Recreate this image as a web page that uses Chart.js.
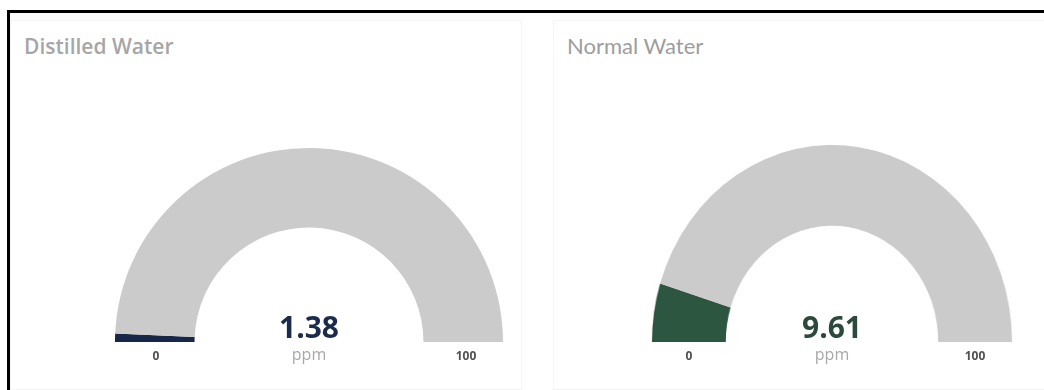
<!DOCTYPE html>
<html>
<head>
<meta charset="utf-8">
<script src="https://cdn.jsdelivr.net/npm/chart.js@4/dist/chart.umd.min.js"></script>
<style>
  html, body { margin: 0; padding: 0; background: #fff; }
  body { width: 1044px; height: 390px; position: relative; overflow: hidden; font-family: "Open Sans", sans-serif; }
  .frame { position: absolute; left: 7px; top: 10px; right: -10px; bottom: -10px; border-left: 3px solid #000; border-top: 3px solid #000; }
  .card { position: absolute; top: 20px; height: 370px; border: 1px solid #f5f5f5; box-sizing: border-box; }
  .title { position: absolute; color: #9d9d9d; top: 32px; white-space: nowrap; }
  .wrap { position: absolute; }
  .value { position: absolute; width: 200px; text-align: center; font-weight: 700; font-size: 30px; top: 309px; line-height: 36px; }
  .unit { position: absolute; width: 200px; text-align: center; font-size: 16px; color: #a8a8a8; top: 343px; line-height: 22px; }
  .tick { position: absolute; width: 60px; text-align: center; font-weight: 700; font-size: 12px; color: #505050; top: 347px; }
</style>
</head>
<body>
<div class="frame"></div>
<div class="card" style="left:10px;width:512px"></div>
<div class="card" style="left:553px;width:500px"></div>
<div id="g0"></div>
<div id="g1"></div>
<script>
  // Gauge data
  const gaugeTitles = ["Distilled Water", "Normal Water"];
  const gaugeValues = [1.38, 9.61];
  const gaugeMin = 0;
  const gaugeMax = 100;
  const gaugeUnit = "ppm";

  // Layout / style per gauge
  const gaugeStyle = [
    { cx: 309, base: 342, r: 194, sx: 1, color: "#16274a", text: "#1b2b4c", titleX: 24,
      titleFont: "600 21px 'Open Sans', sans-serif", titleColor: "#a6a6a6", lo: 156, hi: 466 },
    { cx: 832, base: 342, r: 197, sx: 0.914, color: "#2c5640", text: "#2c4a3c", titleX: 567,
      titleFont: "400 22px Lato, sans-serif", titleColor: "#9d9d9d", lo: 689, hi: 975 },
  ];

  function buildGauge(i) {
    const st = gaugeStyle[i];
    const host = document.getElementById("g" + i);

    const title = document.createElement("div");
    title.className = "title";
    title.style.left = st.titleX + "px";
    title.style.font = st.titleFont;
    title.style.color = st.titleColor;
    title.textContent = gaugeTitles[i];
    host.appendChild(title);

    const wrap = document.createElement("div");
    wrap.className = "wrap";
    wrap.style.left = st.cx - st.r + "px";
    wrap.style.top = st.base - st.r + "px";
    wrap.style.width = st.r * 2 + "px";
    wrap.style.height = st.r + "px";
    wrap.style.transform = `scaleX(${st.sx})`;
    const canvas = document.createElement("canvas");
    wrap.appendChild(canvas);
    host.appendChild(wrap);

    const v = gaugeValues[i];
    new Chart(canvas.getContext("2d"), {
      type: "doughnut",
      data: {
        labels: ["value", "rest"],
        datasets: [
          {
            data: [v - gaugeMin, gaugeMax - v],
            backgroundColor: [st.color, "#cbcbcb"],
            borderWidth: 0,
          },
        ],
      },
      options: {
        responsive: true,
        maintainAspectRatio: false,
        animation: false,
        events: [],
        rotation: -90,
        circumference: 180,
        cutout: "59%",
        layout: { padding: 0 },
        plugins: { legend: { display: false }, tooltip: { enabled: false } },
      },
    });

    const val = document.createElement("div");
    val.className = "value";
    val.style.left = st.cx - 100 + "px";
    val.style.color = st.text;
    val.textContent = v.toFixed(2);
    host.appendChild(val);

    const unit = document.createElement("div");
    unit.className = "unit";
    unit.style.left = st.cx - 100 + "px";
    unit.textContent = gaugeUnit;
    host.appendChild(unit);

    [[st.lo, gaugeMin], [st.hi, gaugeMax]].forEach(([x, t]) => {
      const d = document.createElement("div");
      d.className = "tick";
      d.style.left = x - 30 + "px";
      d.textContent = t;
      host.appendChild(d);
    });
  }

  gaugeValues.forEach((_, i) => buildGauge(i));
</script>
</body>
</html>
